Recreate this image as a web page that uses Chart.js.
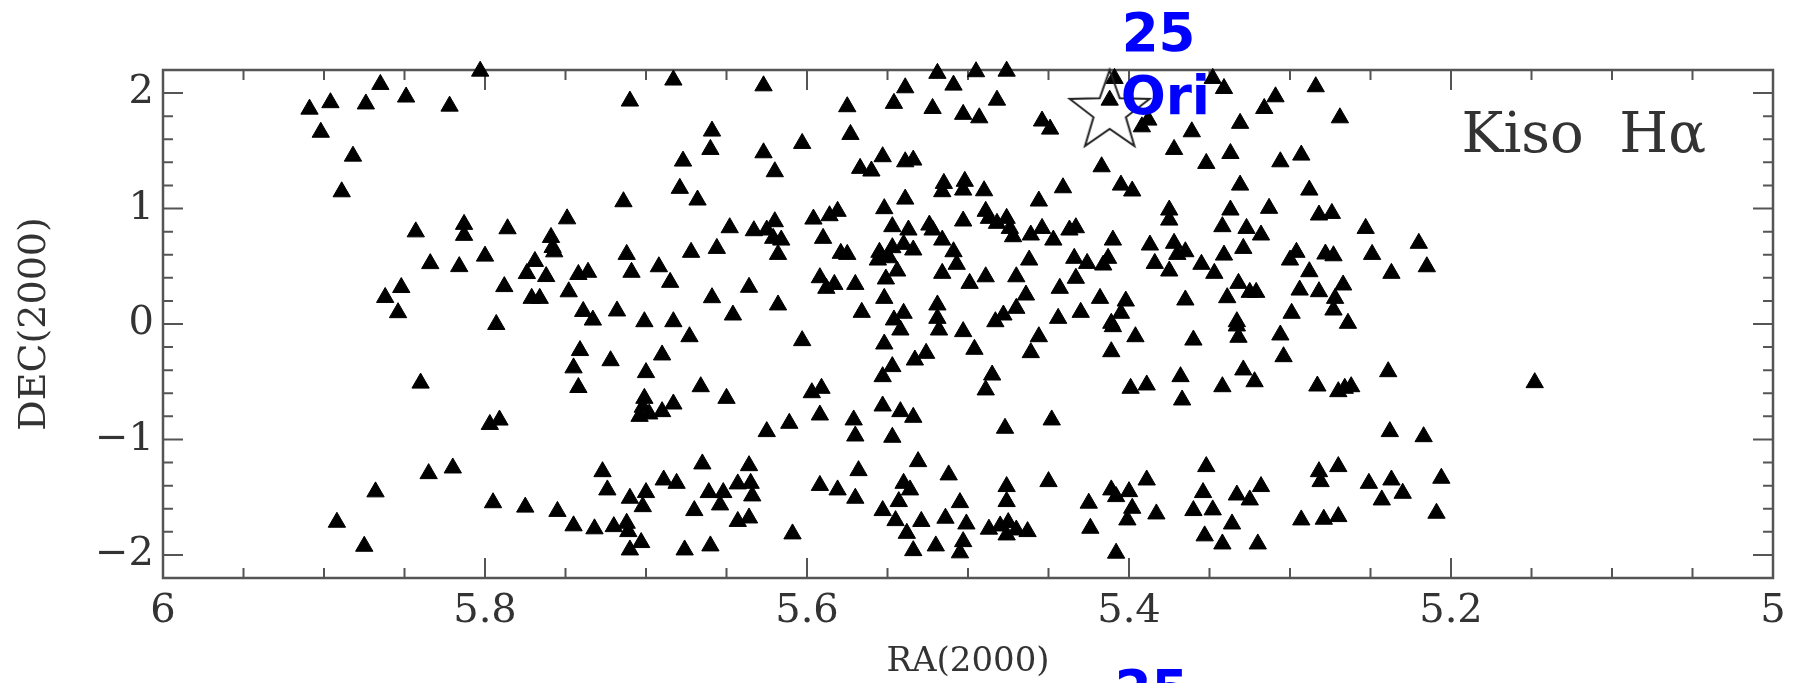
<!DOCTYPE html>
<html>
<head>
<meta charset="utf-8">
<script src="https://cdn.jsdelivr.net/npm/chart.js@4.4.0/dist/chart.umd.min.js"></script>
<style>
  html, body { margin: 0; padding: 0; background: #fff; }
  canvas { display: block; }
</style>
</head>
<body>
<canvas id="sky" width="1799" height="683"></canvas>
<script>
// axis tick labels
const raTicks = [6, 5.8, 5.6, 5.4, 5.2, 5];
const decTicks = [-2, -1, 0, 1, 2];

const westStrip = [
  [5.909, 1.861], [5.902, 1.661], [5.896, 1.917], [5.889, 1.145], [5.882, 1.454],
  [5.874, 1.906], [5.865, 2.075], [5.849, 1.966], [5.822, 1.887], [5.803, 2.19],
  [5.843, 0.798], [5.813, 0.863], [5.813, 0.768], [5.834, 0.523], [5.816, 0.497],
  [5.862, 0.230], [5.852, 0.316], [5.854, 0.098], [5.800, 0.588], [5.786, 0.825],
  [5.793, -0.004], [5.788, 0.324], [5.840, -0.512], [5.797, -0.87], [5.791, -0.832],
  [5.774, 0.437], [5.769, 0.542], [5.771, 0.222], [5.766, 0.222], [5.762, 0.411],
  [5.759, 0.75], [5.758, 0.663], [5.757, 0.625], [5.749, 0.911], [5.748, 0.279],
  [5.742, 0.429], [5.736, 0.448], [5.739, 0.109], [5.733, 0.034], [5.741, -0.23],
  [5.745, -0.38], [5.742, -0.55],
  [5.892, -1.717], [5.875, -1.925], [5.868, -1.454], [5.835, -1.296], [5.820, -1.247],
  [5.795, -1.548], [5.775, -1.586], [5.755, -1.623], [5.745, -1.748], [5.732, -1.774]
];

const innerWestStrip = [
  [5.683, 2.113], [5.627, 2.063], [5.710, 1.931], [5.659, 1.671], [5.660, 1.512],
  [5.603, 1.564], [5.627, 1.483], [5.677, 1.411], [5.620, 1.319], [5.679, 1.175],
  [5.714, 1.059], [5.668, 1.074], [5.648, 0.834], [5.633, 0.808], [5.620, 0.886],
  [5.625, 0.814], [5.621, 0.742], [5.616, 0.727], [5.618, 0.603], [5.712, 0.603],
  [5.709, 0.448], [5.672, 0.621], [5.656, 0.655], [5.692, 0.496], [5.685, 0.361],
  [5.636, 0.318], [5.659, 0.228], [5.618, 0.165], [5.646, 0.078], [5.718, 0.113],
  [5.701, 0.02], [5.683, 0.02],
  [5.673, -0.11], [5.603, -0.144], [5.722, -0.318], [5.690, -0.268], [5.700, -0.421],
  [5.666, -0.543], [5.650, -0.644], [5.701, -0.644], [5.702, -0.721], [5.698, -0.779],
  [5.690, -0.759], [5.683, -0.693], [5.704, -0.8], [5.625, -0.932], [5.611, -0.86],
  [5.727, -1.279], [5.665, -1.212], [5.636, -1.227], [5.724, -1.437], [5.689, -1.351],
  [5.681, -1.38], [5.710, -1.509], [5.700, -1.46], [5.702, -1.582], [5.661, -1.46],
  [5.652, -1.46], [5.654, -1.567], [5.643, -1.385], [5.635, -1.38], [5.634, -1.489],
  [5.670, -1.616], [5.720, -1.755], [5.712, -1.726], [5.711, -1.798], [5.703, -1.893],
  [5.710, -1.957], [5.643, -1.71], [5.636, -1.68], [5.609, -1.818], [5.676, -1.957],
  [5.660, -1.922]
];

const centreStrip = [
  [5.519, 2.171], [5.495, 2.185], [5.476, 2.19], [5.509, 2.069], [5.539, 2.046],
  [5.546, 1.911], [5.575, 1.882], [5.522, 1.867], [5.482, 1.939], [5.503, 1.816],
  [5.493, 1.786], [5.454, 1.758], [5.449, 1.688], [5.573, 1.642], [5.553, 1.449],
  [5.567, 1.348], [5.560, 1.325], [5.539, 1.405], [5.534, 1.42], [5.515, 1.218],
  [5.516, 1.146], [5.502, 1.236], [5.503, 1.16], [5.490, 1.154], [5.539, 1.082],
  [5.456, 1.065], [5.596, 0.909], [5.586, 0.938], [5.581, 0.976], [5.552, 0.999],
  [5.590, 0.742], [5.547, 0.843], [5.537, 0.814], [5.524, 0.857], [5.522, 0.814],
  [5.516, 0.727], [5.503, 0.892], [5.489, 0.976], [5.487, 0.915], [5.482, 0.872],
  [5.476, 0.915], [5.474, 0.828], [5.472, 0.756], [5.461, 0.771], [5.454, 0.828],
  [5.447, 0.727], [5.575, 0.603], [5.579, 0.612], [5.555, 0.621], [5.547, 0.661],
  [5.540, 0.690], [5.534, 0.641], [5.556, 0.554], [5.549, 0.574], [5.544, 0.459],
  [5.551, 0.39], [5.552, 0.222], [5.509, 0.626], [5.507, 0.517], [5.516, 0.439],
  [5.499, 0.352], [5.489, 0.409], [5.470, 0.409], [5.462, 0.554], [5.592, 0.401],
  [5.588, 0.309], [5.583, 0.343], [5.570, 0.343], [5.566, 0.101], [5.546, 0.035],
  [5.540, 0.093], [5.519, 0.165], [5.519, 0.049], [5.464, 0.251], [5.470, 0.136],
  [5.478, 0.078], [5.483, 0.02],
  [5.542, -0.052], [5.518, -0.052], [5.503, -0.066], [5.552, -0.173], [5.533, -0.312],
  [5.526, -0.254], [5.496, -0.219], [5.456, -0.11], [5.461, -0.248], [5.547, -0.369],
  [5.553, -0.456], [5.485, -0.442], [5.489, -0.571], [5.597, -0.595], [5.591, -0.557],
  [5.592, -0.788], [5.571, -0.831], [5.570, -0.970], [5.553, -0.71], [5.542, -0.759],
  [5.534, -0.808], [5.547, -0.981], [5.477, -0.903], [5.448, -0.831], [5.531, -1.192],
  [5.568, -1.27], [5.512, -1.307], [5.592, -1.398], [5.581, -1.437], [5.570, -1.509],
  [5.540, -1.38], [5.536, -1.437], [5.543, -1.538], [5.553, -1.616], [5.545, -1.703],
  [5.538, -1.813], [5.529, -1.71], [5.534, -1.963], [5.520, -1.922], [5.514, -1.682],
  [5.505, -1.547], [5.501, -1.732], [5.503, -1.885], [5.505, -1.982], [5.476, -1.408],
  [5.476, -1.538], [5.487, -1.777], [5.480, -1.749], [5.475, -1.72], [5.476, -1.827],
  [5.470, -1.784], [5.463, -1.798], [5.450, -1.365]
];

const innerEastStrip = [
  [5.409, 2.127], [5.412, 1.939], [5.392, 1.708], [5.388, 1.766], [5.348, 2.127],
  [5.341, 2.04], [5.309, 1.968], [5.316, 1.867], [5.361, 1.665], [5.331, 1.738],
  [5.372, 1.512], [5.337, 1.477], [5.352, 1.391], [5.306, 1.405], [5.293, 1.463],
  [5.417, 1.362], [5.441, 1.18], [5.405, 1.203], [5.398, 1.152], [5.331, 1.203],
  [5.375, 0.987], [5.375, 0.9], [5.337, 0.987], [5.342, 0.843], [5.327, 0.828],
  [5.313, 1.002], [5.318, 0.771], [5.437, 0.814], [5.433, 0.834], [5.410, 0.727],
  [5.387, 0.684], [5.372, 0.699], [5.365, 0.626], [5.370, 0.603], [5.341, 0.597],
  [5.329, 0.655], [5.434, 0.569], [5.426, 0.525], [5.416, 0.511], [5.413, 0.569],
  [5.384, 0.525], [5.375, 0.459], [5.355, 0.517], [5.347, 0.439], [5.300, 0.554],
  [5.296, 0.621], [5.433, 0.396], [5.443, 0.309], [5.418, 0.222], [5.402, 0.199],
  [5.365, 0.208], [5.332, 0.352], [5.325, 0.274], [5.321, 0.274], [5.339, 0.228],
  [5.294, 0.294], [5.430, 0.101], [5.444, 0.049], [5.405, 0.093], [5.411, 0.006],
  [5.333, 0.02], [5.299, 0.093],
  [5.410, -0.023], [5.396, -0.11], [5.411, -0.24], [5.360, -0.139], [5.333, -0.017],
  [5.332, -0.115], [5.306, -0.095], [5.304, -0.283], [5.368, -0.456], [5.367, -0.658],
  [5.399, -0.557], [5.389, -0.528], [5.342, -0.543], [5.329, -0.398], [5.322, -0.5],
  [5.352, -1.235], [5.425, -1.552], [5.424, -1.769], [5.411, -1.437], [5.408, -1.495],
  [5.400, -1.452], [5.398, -1.596], [5.401, -1.697], [5.389, -1.351], [5.383, -1.645],
  [5.408, -1.985], [5.354, -1.46], [5.360, -1.616], [5.348, -1.61], [5.353, -1.835],
  [5.342, -1.905], [5.336, -1.732], [5.333, -1.481], [5.325, -1.524], [5.318, -1.408],
  [5.320, -1.905], [5.293, -1.697]
];

const eastStrip = [
  [5.284, 2.055], [5.269, 1.786], [5.288, 1.16], [5.282, 0.944], [5.274, 0.958],
  [5.253, 0.828], [5.220, 0.699], [5.278, 0.606], [5.273, 0.591], [5.249, 0.603],
  [5.288, 0.453], [5.237, 0.439], [5.215, 0.496], [5.282, 0.28], [5.267, 0.338],
  [5.272, 0.222], [5.273, 0.121], [5.264, 0.006],
  [5.239, -0.413], [5.283, -0.537], [5.270, -0.586], [5.262, -0.543], [5.266, -0.557],
  [5.148, -0.508], [5.238, -0.932], [5.217, -0.976], [5.282, -1.279], [5.281, -1.365],
  [5.270, -1.235], [5.251, -1.38], [5.237, -1.351], [5.243, -1.524], [5.230, -1.466],
  [5.206, -1.336], [5.209, -1.639], [5.279, -1.691], [5.270, -1.668]
];

// 25 Ori
const starRa = 5.412;
const starDec = 1.837;

const allStars = [...westStrip, ...innerWestStrip, ...centreStrip, ...innerEastStrip, ...eastStrip]
  .map(([ra, dec]) => ({ x: ra, y: dec }));

// open five-pointed star marker
const starImg = document.createElement('canvas');
starImg.width = 96;
starImg.height = 96;
(() => {
  const c = starImg.getContext('2d');
  const R = 42, r = 17;
  c.beginPath();
  for (let i = 0; i < 10; i++) {
    const rad = i % 2 === 0 ? R : r;
    const a = -Math.PI / 2 + i * Math.PI / 5;
    const px = 48 + rad * Math.cos(a), py = 48 + rad * Math.sin(a);
    if (i === 0) c.moveTo(px, py); else c.lineTo(px, py);
  }
  c.closePath();
  c.lineWidth = 2;
  c.strokeStyle = '#222';
  c.stroke();
})();

// box with inward ticks on all four sides
const framePlugin = {
  id: 'frame',
  beforeDatasetsDraw(chart) {
    const { ctx, chartArea: a, scales: { x, y } } = chart;
    ctx.save();
    ctx.strokeStyle = '#555';
    ctx.lineWidth = 2;
    ctx.beginPath();
    for (let i = 0; i <= 20; i++) {
      const v = 5 + i * 0.05;
      const px = x.getPixelForValue(v);
      const len = i % 4 === 0 ? 20 : 10;
      ctx.moveTo(px, a.bottom); ctx.lineTo(px, a.bottom - len);
      ctx.moveTo(px, a.top); ctx.lineTo(px, a.top + len);
    }
    for (let i = -11; i <= 11; i++) {
      const v = i * 0.2;
      const py = y.getPixelForValue(v);
      const len = i % 5 === 0 ? 20 : 10;
      ctx.moveTo(a.left, py); ctx.lineTo(a.left + len, py);
      ctx.moveTo(a.right, py); ctx.lineTo(a.right - len, py);
    }
    ctx.stroke();
    ctx.lineWidth = 2.5;
    ctx.strokeRect(a.left, a.top, a.right - a.left, a.bottom - a.top);
    ctx.restore();
  }
};

// panel label and the 25 Ori annotation
const labelPlugin = {
  id: 'labels',
  afterDatasetsDraw(chart) {
    const { ctx, chartArea: a, scales: { x, y } } = chart;
    ctx.save();
    ctx.fillStyle = '#333';
    ctx.font = '56px "DejaVu Serif"';
    ctx.textAlign = 'right';
    ctx.textBaseline = 'alphabetic';
    ctx.fillText('Kiso  H\u03b1', a.right - 67, a.top + 82);

    const sx = x.getPixelForValue(starRa);
    const sy = y.getPixelForValue(starDec);
    ctx.fillStyle = '#0000ff';
    ctx.font = 'bold 53px "DejaVu Sans"';
    ctx.textAlign = 'left';
    ctx.fillText('25', sx + 12, sy - 61);
    ctx.fillText('Ori', sx + 11, sy + 2);
    ctx.fillText('25', sx + 5, sy + 596);
    ctx.restore();
  }
};

Chart.defaults.font.family = '"DejaVu Serif"';
Chart.defaults.color = '#333';

new Chart(document.getElementById('sky'), {
  type: 'scatter',
  data: {
    datasets: [
      {
        label: '25 Ori',
        data: [{ x: starRa, y: starDec }],
        pointStyle: starImg,
        pointRadius: 42,
        clip: false
      },
      {
        label: 'Kiso H-alpha',
        data: allStars,
        pointStyle: 'triangle',
        pointRadius: 10,
        pointHoverRadius: 10,
        backgroundColor: '#000',
        borderColor: '#000',
        borderWidth: 1,
        clip: false
      }
    ]
  },
  options: {
    responsive: false,
    animation: false,
    events: [],
    layout: { autoPadding: false, padding: { top: 70, right: 26, left: 0, bottom: 0 } },
    plugins: { legend: { display: false }, tooltip: { enabled: false } },
    scales: {
      x: {
        type: 'linear',
        min: 5,
        max: 6,
        reverse: true,
        grid: { display: false, drawTicks: false, tickLength: 0 },
        border: { display: false },
        afterBuildTicks: (s) => { s.ticks = raTicks.map(v => ({ value: v })); },
        afterFit: (s) => { s.height = 105; s.paddingLeft = 0; s.paddingRight = 0; },
        ticks: {
          autoSkip: false,
          maxRotation: 0,
          padding: 10,
          font: { size: 40 },
          callback: (v) => String(v)
        },
        title: {
          display: true,
          text: 'RA(2000)',
          font: { size: 34 },
          padding: { top: 0, bottom: 0 }
        }
      },
      y: {
        type: 'linear',
        min: -2.2,
        max: 2.2,
        grid: { display: false, drawTicks: false, tickLength: 0 },
        border: { display: false },
        afterBuildTicks: (s) => { s.ticks = decTicks.map(v => ({ value: v })); },
        afterFit: (s) => { s.width = 163; s.paddingTop = 0; s.paddingBottom = 0; },
        ticks: {
          autoSkip: false,
          padding: 9,
          font: { size: 40 },
          callback: (v) => (v < 0 ? '\u2212' + Math.abs(v) : String(v))
        },
        title: {
          display: true,
          text: 'DEC(2000)',
          font: { size: 38 },
          padding: { top: 12, bottom: 0 }
        }
      }
    }
  },
  plugins: [framePlugin, labelPlugin]
});
</script>
</body>
</html>
